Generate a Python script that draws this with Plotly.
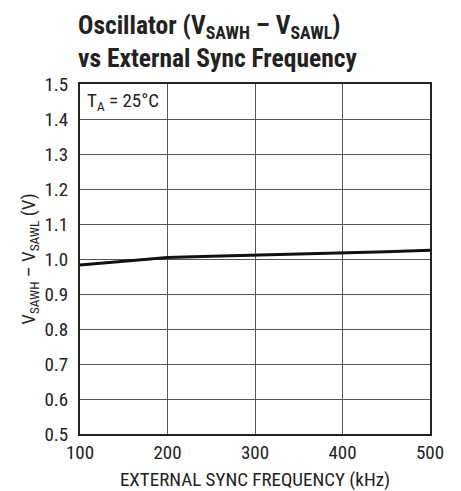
import plotly.graph_objects as go

freq_khz = [100, 150, 200, 250, 300, 350, 400, 450, 500]
v_diff = [0.983, 0.994, 1.004, 1.008, 1.011, 1.013, 1.016, 1.021, 1.025]
x_ticks = [100, 200, 300, 400, 500]
y_ticks = [0.5, 0.6, 0.7, 0.8, 0.9, 1.0, 1.1, 1.2, 1.3, 1.4, 1.5]

FONT = "Liberation Sans Narrow, Roboto Condensed, Arial Narrow, sans-serif"

fig = go.Figure()
fig.add_trace(go.Scatter(x=freq_khz, y=v_diff, mode="lines",
                         line=dict(color="#111111", width=3), showlegend=False))

# page body has an 8px default margin, so the figure is sized/offset to compensate
fig.update_layout(
    width=453, height=483,
    margin=dict(l=72, r=31, t=76, b=57, autoexpand=False),
    paper_bgcolor="white", plot_bgcolor="white",
    font=dict(family=FONT, size=19, color="#222222"),
    xaxis=dict(range=[100, 500], tickvals=x_ticks, ticktext=[str(v) for v in x_ticks],
               showgrid=True, gridcolor="#555555", gridwidth=1,
               showline=True, linecolor="#222222", linewidth=2, mirror=True,
               ticks="", zeroline=False, ticklabelstandoff=0, automargin=False,
               title=dict(text="EXTERNAL SYNC FREQUENCY (kHz)", font=dict(size=19), standoff=13)),
    yaxis=dict(range=[0.5, 1.5], tickvals=y_ticks, ticktext=[f"{v:.1f}" for v in y_ticks],
               showgrid=True, gridcolor="#555555", gridwidth=1,
               showline=True, linecolor="#222222", linewidth=2, mirror=True,
               ticks="", zeroline=False, ticklabelstandoff=6, automargin=False,
               title=dict(text="V<sub>SAWH</sub> – V<sub>SAWL</sub> (V)", font=dict(size=19), standoff=4)),
)

fig.add_annotation(text="<b>Oscillator (V<sub>SAWH</sub> – V<sub>SAWL</sub>)<br>vs External Sync Frequency</b>",
                   xref="paper", yref="paper", x=0, y=1.0, xshift=-4, yshift=9,
                   xanchor="left", yanchor="bottom", align="left", showarrow=False,
                   font=dict(family=FONT, size=25.5, color="#222222"))
fig.add_annotation(text="T<sub>A</sub> = 25°C", xref="x", yref="y", x=106, y=1.45,
                   xanchor="left", yanchor="middle", showarrow=False,
                   font=dict(family=FONT, size=19, color="#222222"))

fig.write_html("out.html")
